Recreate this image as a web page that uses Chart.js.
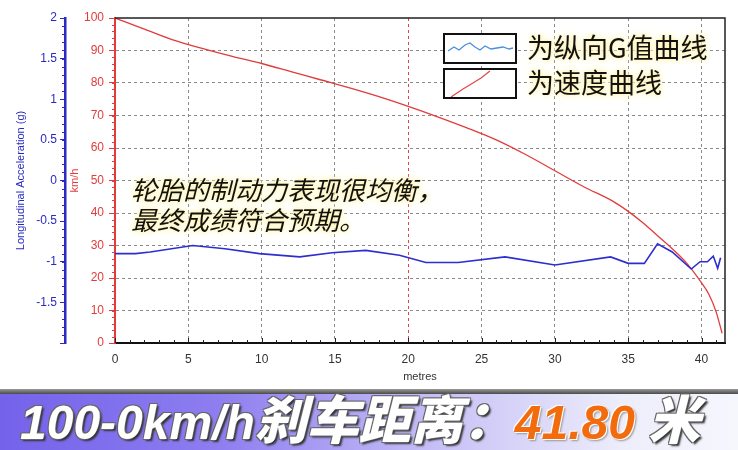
<!DOCTYPE html>
<html>
<head>
<meta charset="utf-8">
<script src="https://cdn.jsdelivr.net/npm/chart.js@4"></script>
<style>
  html,body{margin:0;padding:0;background:#fff;}
  #wrap{position:relative;width:738px;height:450px;overflow:hidden;background:#fff;}
  #chart{position:absolute;left:0;top:0;}
  .note{position:absolute;font-family:"Noto Sans CJK SC",sans-serif;color:#111;white-space:nowrap;line-height:1.2;
    font-style:italic;text-shadow:0 0 3px #fff3b0,0 0 6px #fff3b0,0 0 9px #fff6c8;}
  .lgbox{position:absolute;width:70px;height:27px;border:2px solid #111;background:#fff;}
  .lgbox svg{position:absolute;left:0;top:0;}
  #banner{position:absolute;left:0;top:389px;width:738px;height:61px;
    background:linear-gradient(to right,#7462ea 0%,#8e7ef0 30%,#c8c2f6 60%,#eeeefb 85%,#f6f6fd 100%);}
  #banner:before{content:'';position:absolute;left:0;top:0;width:100%;height:5px;
    background:linear-gradient(to bottom,#9a9a9a,#4a4a4a);}
  #banner .t{position:absolute;left:20px;top:3px;font:italic bold 48px/50px "Liberation Sans","Noto Sans CJK SC",sans-serif;
    color:#fff;white-space:nowrap;
    text-shadow:-1px -1px 0 #666,1px -1px 0 #666,-1px 1px 0 #666,2px 2px 2px #333;}
  #banner .c{font-family:"Noto Sans CJK SC",sans-serif;font-size:52px;font-weight:900;}
  #banner .o{color:#f26b0c;text-shadow:-1px -1px 0 #fff,1px 1px 0 #fff,2px 2px 2px #999;}
</style>
</head>
<body>
<div id="wrap">
  <canvas id="chart" width="738" height="388"></canvas>

  <div class="lgbox" style="left:443px;top:33px;">
    <svg width="70" height="27"><polyline fill="none" stroke="#4a8fdc" stroke-width="1.3"
      points="3,16 9,12 14,15 20,10 25,8 30,12 35,15 40,11 46,14 52,13 58,12 64,14 68,13"/></svg>
  </div>
  <div class="lgbox" style="left:443px;top:68px;">
    <svg width="70" height="27"><polyline fill="none" stroke="#e04a4a" stroke-width="1.3"
      points="6,27 18,19 28,13 36,8 45,1"/></svg>
  </div>
  <div class="note" style="left:527px;top:31px;font-size:27px;font-style:normal;">为纵向G值曲线</div>
  <div class="note" style="left:527px;top:66px;font-size:27px;font-style:normal;">为速度曲线</div>

  <div class="note" style="left:131px;top:173px;font-size:26px;">轮胎的制动力表现很均衡，</div>
  <div class="note" style="left:131px;top:203px;font-size:26px;">最终成绩符合预期。</div>

  <div id="banner"><div class="t">100-0km/h<span class="c">刹车距离：</span><span class="o">41.80</span> <span class="c">米</span></div></div>
</div>

<script>
// speed curve (km/h vs metres)
const speedX = [0, 2, 4, 6, 8, 10, 12, 14, 16, 18, 20, 22, 24, 26, 28, 30, 32, 34, 35, 36, 37, 38, 39, 40, 40.5, 41, 41.4];
const speedY = [100, 96.6, 93.2, 90.6, 88.2, 86, 83.5, 81, 78.5, 75.8, 72.8, 69.6, 66.2, 62.5, 58, 53, 48, 43.5, 40.5, 37, 33, 29, 24.5, 18.5, 15, 9.5, 3];

// longitudinal G curve (g vs metres)
const gX = [0, 1.4, 2.4, 5.3, 7.5, 9.85, 12.6, 14.8, 17.1, 19.4, 21.2, 23.4, 26.6, 30.0, 33.8, 35.0, 36.1, 37.0, 38.0, 39.3, 39.9, 40.4, 40.8, 41.1, 41.3];
const gY = [-0.90, -0.90, -0.88, -0.80, -0.84, -0.90, -0.94, -0.89, -0.86, -0.92, -1.01, -1.01, -0.94, -1.04, -0.94, -1.02, -1.02, -0.78, -0.88, -1.09, -1.00, -1.00, -0.93, -1.08, -0.95];

// tick labels
const xTicks = [0, 5, 10, 15, 20, 25, 30, 35, 40];

const xMax = 41.6;
const RED = '#e23b3b', BLUE = '#2a2ac0';

// frame + minor ticks on the axes
const frame = {
  id: 'frame',
  afterDatasetsDraw(chart){
    const {ctx, chartArea: a, scales} = chart;
    const x = scales.x, y = scales.y, g = scales.yG;
    ctx.save();
    ctx.lineWidth = 1.5; ctx.strokeStyle = '#222';
    ctx.beginPath(); ctx.moveTo(a.left, a.top); ctx.lineTo(a.right, a.top); ctx.lineTo(a.right, a.bottom); ctx.stroke();
    ctx.lineWidth = 1;
    for (let v = 0; v <= xMax; v += 1){
      const px = Math.round(x.getPixelForValue(v)) + 0.5;
      ctx.beginPath(); ctx.moveTo(px, a.bottom); ctx.lineTo(px, a.bottom - (v % 5 === 0 ? 5 : 3)); ctx.stroke();
    }
    ctx.strokeStyle = RED;
    for (let v = 0; v <= 100; v += 2){
      const py = Math.round(y.getPixelForValue(v)) + 0.5;
      ctx.beginPath(); ctx.moveTo(a.left - 3, py); ctx.lineTo(a.left, py); ctx.stroke();
    }
    ctx.strokeStyle = BLUE;
    for (let v = -20; v <= 20; v += 1){
      const py = Math.round(g.getPixelForValue(v / 10)) + 0.5;
      ctx.beginPath(); ctx.moveTo(g.right - 3, py); ctx.lineTo(g.right, py); ctx.stroke();
    }
    ctx.restore();
  }
};

const tickFont = {family: '"Liberation Sans", Arial, sans-serif', size: 12};

new Chart(document.getElementById('chart').getContext('2d'), {
  type: 'line',
  data: {
    datasets: [
      {data: gX.map((v, i) => ({x: v, y: gY[i]})), yAxisID: 'yG', borderColor: '#2e2ed0', borderWidth: 1.6, pointRadius: 0, tension: 0},
      {data: speedX.map((v, i) => ({x: v, y: speedY[i]})), yAxisID: 'y', borderColor: RED, borderWidth: 1.3, pointRadius: 0, cubicInterpolationMode: 'monotone'}
    ]
  },
  options: {
    responsive: false, animation: false,
    layout: {padding: {top: 18, right: 13, bottom: 0, left: 0}},
    plugins: {legend: {display: false}, tooltip: {enabled: false}},
    scales: {
      x: {
        type: 'linear', min: 0, max: xMax,
        afterBuildTicks: s => { s.ticks = xTicks.map(v => ({value: v})); },
        afterFit: s => { s.height = 45; },
        ticks: {color: '#333', font: tickFont, padding: 9, maxRotation: 0, autoSkip: false},
        grid: {drawTicks: false, lineWidth: 1,
          color: c => c.tick && c.tick.value === 20 ? '#e04444' : (c.tick && c.tick.value === 0 ? 'rgba(0,0,0,0)' : '#8a8a8a')},
        border: {color: '#111', width: 2, dash: [3, 3]},
        title: {display: true, text: 'metres', color: '#333', font: {family: '"Liberation Sans", Arial, sans-serif', size: 11}, padding: {top: 2, bottom: 4}}
      },
      y: {
        position: 'left', weight: 0, min: 0, max: 100,
        afterFit: s => { s.width = 50; },
        ticks: {stepSize: 10, color: RED, font: tickFont, padding: 5},
        grid: {tickLength: 6, tickColor: RED, lineWidth: 1,
          color: c => c.tick && (c.tick.value === 0 || c.tick.value === 100) ? 'rgba(0,0,0,0)' : '#8a8a8a'},
        border: {color: RED, width: 2, dash: [3, 3]},
        title: {display: true, text: 'km/h', color: RED, font: {family: '"Liberation Sans", Arial, sans-serif', size: 11}, padding: {top: 3, bottom: 0}}
      },
      yG: {
        position: 'left', weight: 1, min: -2, max: 2,
        afterFit: s => { s.width = 65; },
        ticks: {stepSize: 0.5, color: BLUE, font: tickFont, padding: 3,
          callback: v => v === -2 ? '' : String(v)},
        grid: {drawOnChartArea: false, tickLength: 5, tickColor: BLUE},
        border: {color: BLUE, width: 2.5},
        title: {display: true, text: 'Longitudinal Acceleration (g)', color: BLUE, font: {family: '"Liberation Sans", Arial, sans-serif', size: 11}, padding: {top: 14, bottom: 0}}
      }
    }
  },
  plugins: [frame]
});
</script>
</body>
</html>
